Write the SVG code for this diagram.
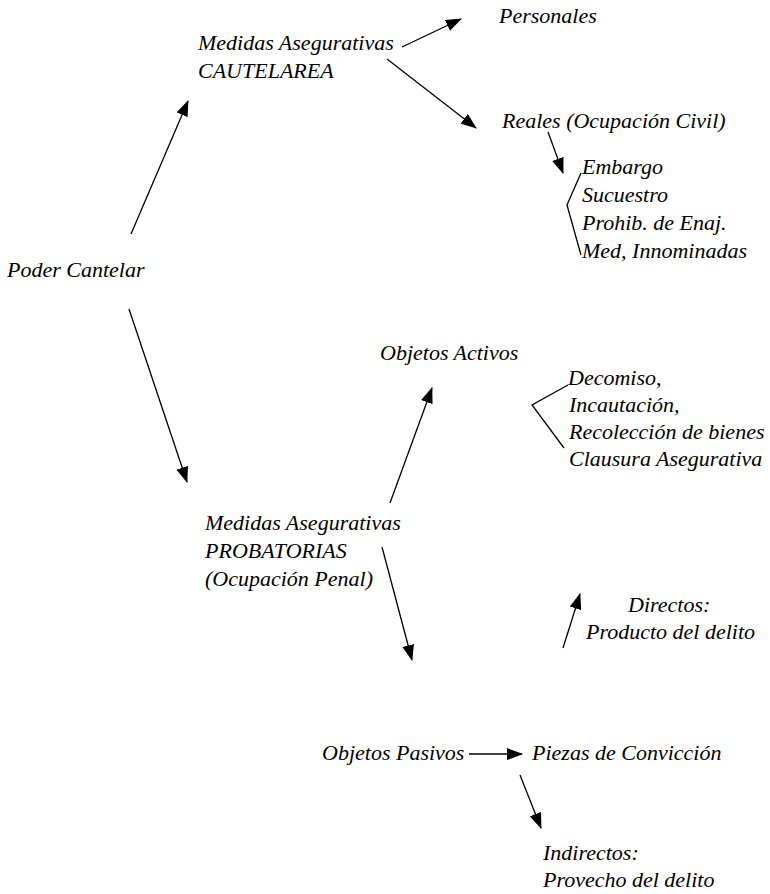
<svg xmlns="http://www.w3.org/2000/svg" width="770" height="894" viewBox="0 0 770 894">
<style>
text{font-family:"Liberation Serif","Times New Roman",serif;font-style:italic;font-size:22px;fill:#000}
.c line,.c polyline{stroke:#000;stroke-width:1.3;fill:none}
</style>
<defs>
<marker id="ah" markerWidth="16" markerHeight="12" refX="15" refY="6" orient="auto" markerUnits="userSpaceOnUse">
<path d="M0,0 L16,6 L0,12 Z" fill="#000"/>
</marker>
</defs>
<rect width="770" height="894" fill="#fff"/>
<g class="c" id="connectors">
<line x1="131" y1="234" x2="188" y2="101" marker-end="url(#ah)"/>
<line x1="129" y1="309" x2="187" y2="482" marker-end="url(#ah)"/>
<line x1="402" y1="47" x2="461" y2="19" marker-end="url(#ah)"/>
<line x1="387" y1="59" x2="476" y2="128" marker-end="url(#ah)"/>
<line x1="548" y1="132" x2="563" y2="173" marker-end="url(#ah)"/>
<polyline points="581,173 567,205 581,255"/>
<line x1="390" y1="503" x2="432" y2="388" marker-end="url(#ah)"/>
<polyline points="568,385 532,405 564,448"/>
<line x1="382" y1="547" x2="412" y2="660" marker-end="url(#ah)"/>
<line x1="563" y1="648" x2="580" y2="594" marker-end="url(#ah)"/>
<line x1="469" y1="754" x2="522" y2="754" marker-end="url(#ah)"/>
<line x1="520" y1="775" x2="541" y2="828" marker-end="url(#ah)"/>
</g>
<g id="poder"><text x="7" y="277">Poder Cantelar</text></g>
<g id="cautelarea"><text x="198" y="50">Medidas Asegurativas</text><text x="198" y="78">CAUTELAREA</text></g>
<g id="personales"><text x="499" y="23">Personales</text></g>
<g id="reales"><text x="502" y="128">Reales (Ocupación Civil)</text></g>
<g id="reales-list"><text x="582" y="174">Embargo</text><text x="582" y="202">Sucuestro</text><text x="582" y="230">Prohib. de Enaj.</text><text x="582" y="258">Med, Innominadas</text></g>
<g id="activos"><text x="380" y="360">Objetos Activos</text></g>
<g id="activos-list"><text x="568" y="385">Decomiso,</text><text x="569" y="412">Incautación,</text><text x="569" y="439">Recolección de bienes</text><text x="569" y="466">Clausura Asegurativa</text></g>
<g id="probatorias"><text x="205" y="530">Medidas Asegurativas</text><text x="205" y="558">PROBATORIAS</text><text x="205" y="586">(Ocupación Penal)</text></g>
<g id="directos"><text x="628" y="612">Directos:</text><text x="586" y="639">Producto del delito</text></g>
<g id="pasivos"><text x="322" y="760">Objetos Pasivos</text></g>
<g id="piezas"><text x="532" y="760">Piezas de Convicción</text></g>
<g id="indirectos"><text x="543" y="860">Indirectos:</text><text x="543" y="887">Provecho del delito</text></g>
</svg>
